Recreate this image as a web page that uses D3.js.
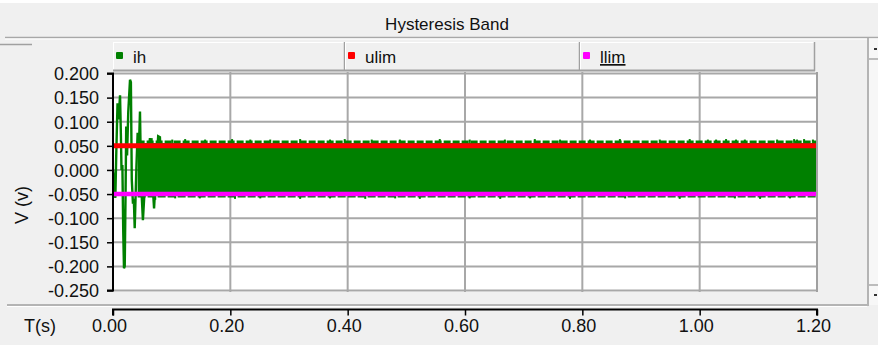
<!DOCTYPE html>
<html>
<head>
<meta charset="utf-8">
<script src="https://cdn.jsdelivr.net/npm/d3@7/dist/d3.min.js"></script>
<style>
  html, body { margin: 0; padding: 0; background: #f0f0f0; }
  svg { display: block; }
  text { font-family: "Liberation Sans", Arial, sans-serif; }
</style>
</head>
<body>
<svg id="chart" width="878" height="345"></svg>
<script>
// ---- data ----
const chartTitle = "Hysteresis Band";
const seriesNames = ["ih", "ulim", "llim"];
const seriesColors = ["#008000", "#ff0000", "#ff00ff"];

const xTicks = [0, 0.2, 0.4, 0.6, 0.8, 1.0, 1.2];
const xTickLabels = ["0.00", "0.20", "0.40", "0.60", "0.80", "1.00", "1.20"];
const yTicks = [0.2, 0.15, 0.1, 0.05, 0, -0.05, -0.1, -0.15, -0.2, -0.25];
const yTickLabels = ["0.200", "0.150", "0.100", "0.050", "0.000", "-0.050", "-0.100", "-0.150", "-0.200", "-0.250"];

// hysteresis limits
const ulimT = [0, 1.2];
const ulimV = [0.05, 0.05];
const llimT = [0, 1.2];
const llimV = [-0.05, -0.05];

// ih start-up transient (s, V)
const ihTransT = [0, 0.002, 0.004, 0.0055, 0.0077, 0.0095, 0.012, 0.0135, 0.0145, 0.016, 0.0175, 0.0187, 0.0200,
  0.0215, 0.0225, 0.024, 0.026, 0.029, 0.0305, 0.032, 0.034, 0.0355, 0.037, 0.040, 0.042, 0.044, 0.046,
  0.048, 0.051, 0.054, 0.057, 0.060, 0.063, 0.066, 0.070, 0.074, 0.077, 0.080, 0.084];
const ihTransV = [0, -0.02, -0.058, 0.03, 0.138, 0.105, 0.155, 0.07, 0.0, 0.01, -0.13, -0.204, -0.2,
  -0.04, 0.09, 0.03, 0.12, 0.187, 0.182, -0.02, -0.07, -0.06, -0.121, 0.01, 0.077, 0.04, 0.121,
  -0.03, -0.104, -0.04, 0.045, 0.03, 0.066, 0.0, -0.08, 0.01, 0.07, 0.068, -0.055];

// ih steady switching envelope (s, V)
const ihBandT = [0.042, 1.2];
const ihBandHi = [0.056, 0.056];
const ihBandLo = [-0.052, -0.052];
const ihEdgeHi = [0.0585, 0.0585];
const ihEdgeLo = [-0.0548, -0.0548];

// ih peak excursions beyond the envelope
const ihPeakUpT = [0.066, 0.080, 0.101, 0.123, 0.157, 0.203, 0.234, 0.268, 0.319, 0.370, 0.395, 0.441,
  0.489, 0.557, 0.608, 0.668, 0.719, 0.762, 0.813, 0.864, 0.932, 0.983, 1.014, 1.028, 1.045, 1.062,
  1.077, 1.132, 1.161, 1.166, 1.178, 1.193];
const ihPeakUpV = [0.066, 0.064, 0.063, 0.064, 0.063, 0.064, 0.063, 0.063, 0.064, 0.063, 0.064, 0.063,
  0.063, 0.064, 0.063, 0.063, 0.064, 0.063, 0.063, 0.064, 0.063, 0.064, 0.063, 0.063, 0.064, 0.063,
  0.063, 0.063, 0.064, 0.063, 0.064, 0.063];
const ihPeakDnT = [0.072, 0.106, 0.148, 0.208, 0.251, 0.319, 0.370, 0.430, 0.481, 0.523, 0.608, 0.660,
  0.711, 0.779, 0.873, 0.966, 1.060, 1.103, 1.154];
const ihPeakDnV = [-0.062, -0.059, -0.059, -0.060, -0.059, -0.060, -0.059, -0.060, -0.059, -0.060, -0.059, -0.060,
  -0.059, -0.060, -0.059, -0.060, -0.059, -0.060, -0.059];

// ---- layout ----
const W = 878, H = 345;
const plot = { left: 113, right: 817, top: 72, bottom: 292 };
const svg = d3.select("#chart");

const x = d3.scaleLinear().domain([0, 1.2]).range([113, 817]);
const y = d3.scaleLinear().domain([-0.25, 0.2]).range([290.5, 73.5]);

// window chrome
svg.append("rect").attr("width", W).attr("height", H).attr("fill", "#f0f0f0");
svg.append("rect").attr("x", 0).attr("y", 0).attr("width", W).attr("height", 3).attr("fill", "#ffffff");

svg.append("text")
  .attr("x", 447).attr("y", 30)
  .attr("text-anchor", "middle")
  .attr("font-size", 17)
  .attr("fill", "#111")
  .text(chartTitle);

svg.append("line").attr("x1", 5).attr("x2", W).attr("y1", 37.5).attr("y2", 37.5)
  .attr("stroke", "#a8a8a8").attr("stroke-width", 1.5);
svg.append("line").attr("x1", 5).attr("x2", W).attr("y1", 39).attr("y2", 39)
  .attr("stroke", "#ffffff").attr("stroke-width", 1);
svg.append("line").attr("x1", 0).attr("x2", 32).attr("y1", 44.5).attr("y2", 44.5)
  .attr("stroke", "#a0a0a0").attr("stroke-width", 1.5);

// vertical scroll strip on the right
svg.append("rect").attr("x", 869).attr("y", 40).attr("width", 9).attr("height", 265).attr("fill", "#f7f7f7");
svg.append("line").attr("x1", 868).attr("x2", 868).attr("y1", 38).attr("y2", 306)
  .attr("stroke", "#a0a0a0").attr("stroke-width", 1.5);
[59, 285].forEach(v => svg.append("line").attr("x1", 869).attr("x2", W).attr("y1", v).attr("y2", v)
  .attr("stroke", "#a8a8a8").attr("stroke-width", 1.5));
[49, 295].forEach(v => svg.append("rect").attr("x", 874).attr("y", v - 1).attr("width", 3).attr("height", 2)
  .attr("fill", "#333"));

// panel bottom edge
svg.append("line").attr("x1", 7).attr("x2", 867).attr("y1", 305).attr("y2", 305)
  .attr("stroke", "#a0a0a0").attr("stroke-width", 1.5);
svg.append("line").attr("x1", 7).attr("x2", 867).attr("y1", 306.5).attr("y2", 306.5)
  .attr("stroke", "#ffffff").attr("stroke-width", 1);

// legend header cells
const cellEdges = [113, 345, 580, 815];
const legend = svg.append("g");
seriesNames.forEach((name, i) => {
  const x0 = cellEdges[i], x1 = cellEdges[i + 1];
  const g = legend.append("g");
  g.append("rect").attr("x", x0).attr("y", 42).attr("width", x1 - x0).attr("height", 29).attr("fill", "#f0f0f0");
  g.append("line").attr("x1", x0).attr("x2", x1).attr("y1", 42.5).attr("y2", 42.5).attr("stroke", "#ffffff");
  g.append("line").attr("x1", x0 + 0.5).attr("x2", x0 + 0.5).attr("y1", 42).attr("y2", 71).attr("stroke", "#ffffff");
  g.append("line").attr("x1", x0).attr("x2", x1).attr("y1", 70.5).attr("y2", 70.5).attr("stroke", "#a0a0a0").attr("stroke-width", 2);
  g.append("line").attr("x1", x1 - 0.5).attr("x2", x1 - 0.5).attr("y1", 42).attr("y2", 71).attr("stroke", "#a0a0a0").attr("stroke-width", 1.5);
  g.append("rect").attr("x", x0 + 3).attr("y", 52).attr("width", 7).attr("height", 7).attr("rx", 1)
    .attr("fill", seriesColors[i]);
  g.append("text").attr("x", x0 + 20).attr("y", 63)
    .attr("font-size", 17).attr("fill", "#111")
    .attr("text-decoration", i === 2 ? "underline" : null)
    .text(name);
});

// plot area
svg.append("rect").attr("x", plot.left).attr("y", plot.top)
  .attr("width", plot.right - plot.left).attr("height", plot.bottom - plot.top).attr("fill", "#ffffff");

// grid
const grid = svg.append("g").attr("stroke", "#a8a8a8").attr("stroke-width", 2);
yTicks.forEach(v => grid.append("line").attr("x1", plot.left).attr("x2", plot.right)
  .attr("y1", y(v)).attr("y2", y(v)));
xTicks.slice(1).forEach(v => grid.append("line").attr("x1", x(v)).attr("x2", x(v))
  .attr("y1", plot.top).attr("y2", plot.bottom));

// ih: switching envelope
const green = seriesColors[0];
const bandData = ihBandT.map((t, i) => ({ t, hi: ihBandHi[i], lo: ihBandLo[i], eh: ihEdgeHi[i], el: ihEdgeLo[i] }));
svg.append("path").datum(bandData)
  .attr("fill", green)
  .attr("d", d3.area().x(d => x(d.t)).y0(d => y(d.lo)).y1(d => y(d.hi)));
svg.append("path").datum(bandData)
  .attr("fill", "none").attr("stroke", green).attr("stroke-width", 2.5)
  .attr("stroke-dasharray", "7,2")
  .attr("d", d3.line().x(d => x(d.t)).y(d => y(d.eh)));
svg.append("path").datum(bandData)
  .attr("fill", "none").attr("stroke", green).attr("stroke-width", 2.5)
  .attr("stroke-dasharray", "8,2")
  .attr("d", d3.line().x(d => x(d.t)).y(d => y(d.el)));

// ih: peak excursions
svg.append("g").selectAll("line.up").data(ihPeakUpT.map((t, i) => ({ t, v: ihPeakUpV[i] })))
  .join("line")
  .attr("x1", d => x(d.t)).attr("x2", d => x(d.t))
  .attr("y1", y(0.056)).attr("y2", d => y(d.v))
  .attr("stroke", green).attr("stroke-width", 2);
svg.append("g").selectAll("line.dn").data(ihPeakDnT.map((t, i) => ({ t, v: ihPeakDnV[i] })))
  .join("line")
  .attr("x1", d => x(d.t)).attr("x2", d => x(d.t))
  .attr("y1", y(-0.052)).attr("y2", d => y(d.v))
  .attr("stroke", green).attr("stroke-width", 2);

// ih: start-up transient
svg.append("path").datum(ihTransT.map((t, i) => ({ t, v: ihTransV[i] })))
  .attr("fill", "none").attr("stroke", green).attr("stroke-width", 2.4)
  .attr("stroke-linejoin", "miter")
  .attr("d", d3.line().x(d => x(d.t)).y(d => y(d.v)));

// limits
const limLine = d3.line().x(d => x(d.t)).y(d => y(d.v));
svg.append("path").datum(ulimT.map((t, i) => ({ t, v: ulimV[i] })))
  .attr("fill", "none").attr("stroke", seriesColors[1]).attr("stroke-width", 5).attr("d", limLine);
svg.append("path").datum(llimT.map((t, i) => ({ t, v: llimV[i] })))
  .attr("fill", "none").attr("stroke", seriesColors[2]).attr("stroke-width", 4.5).attr("d", limLine);

// right plot border
svg.append("line").attr("x1", plot.right).attr("x2", plot.right).attr("y1", plot.top).attr("y2", plot.bottom)
  .attr("stroke", "#a0a0a0").attr("stroke-width", 2);

// y axis
const yAxis = d3.axisLeft(y).tickValues(yTicks).tickSize(6).tickPadding(8)
  .tickFormat((d, i) => yTickLabels[i]);
const gy = svg.append("g").attr("transform", "translate(113,0)").call(yAxis);
gy.select(".domain").attr("stroke", "#000").attr("stroke-width", 2)
  .attr("d", `M-6,${y(0.2)}H0V${y(-0.25)}H-6`);
gy.selectAll(".tick line").attr("stroke", "#000").attr("stroke-width", 1.5);
gy.selectAll(".tick text").attr("font-size", 18).attr("fill", "#111")
  .attr("font-family", "'Liberation Sans', Arial, sans-serif").attr("dy", "0.35em");

svg.append("text")
  .attr("transform", "translate(28,205) rotate(-90)")
  .attr("text-anchor", "middle")
  .attr("font-size", 18).attr("fill", "#111")
  .text("V (v)");

// x axis
const xAxis = d3.axisBottom(x).tickValues(xTicks).tickSize(6).tickPadding(4)
  .tickFormat((d, i) => xTickLabels[i]);
const gx = svg.append("g").attr("transform", "translate(0,309.5)").call(xAxis);
gx.select(".domain").attr("stroke", "#000").attr("stroke-width", 2)
  .attr("d", `M${x(0)},6V0H${x(1.2)}V6`);
gx.selectAll(".tick line").attr("stroke", "#000").attr("stroke-width", 1.5);
gx.selectAll(".tick text").attr("font-size", 18).attr("fill", "#111")
  .attr("font-family", "'Liberation Sans', Arial, sans-serif")
  .attr("dx", -4);

svg.append("text").attr("x", 24).attr("y", 332)
  .attr("font-size", 18).attr("fill", "#111")
  .text("T(s)");
</script>
</body>
</html>
